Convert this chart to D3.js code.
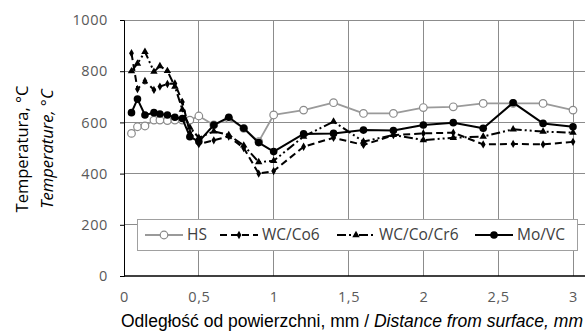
<!DOCTYPE html>
<html><head><meta charset="utf-8">
<script src="https://cdn.jsdelivr.net/npm/d3@7"></script>
<style>body{margin:0;background:#fff}svg{display:block}text{font-family:"Open Sans",sans-serif}</style>
</head><body>
<svg id="c" width="585" height="332"></svg>
<script>
const xs = [0.05,0.09,0.14,0.2,0.24,0.29,0.34,0.39,0.44,0.5,0.6,0.7,0.8,0.9,1.0,1.2,1.4,1.6,1.8,2.0,2.2,2.4,2.6,2.8,3.0];
const hs     = [557,583,586,609,609,607,609,609,609,625,590,615,577,525,629,648,677,635,635,658,661,674,674,674,648];
const wcco6  = [870,730,762,727,740,750,752,680,560,515,530,545,500,400,410,505,540,512,550,557,560,514,516,514,524];
const wccocr = [800,830,876,798,820,801,740,650,580,540,565,551,510,445,450,545,603,525,551,531,540,545,573,564,560];
const movc   = [638,691,629,638,633,629,620,615,544,525,590,620,577,521,486,555,557,570,568,590,599,577,677,596,583];
const seriesNames = ["HS","WC/Co6","WC/Co/Cr6","Mo/VC"];
const xTicks = [0,0.5,1,1.5,2,2.5,3];
const xTickLabels = ["0","0,5","1","1,5","2","2,5","3"];
const yTicks = [0,200,400,600,800,1000];

const svg = d3.select("#c");
const x = d3.scaleLinear().domain([0,3]).range([124,573]);
const y = d3.scaleLinear().domain([0,1000]).range([276,20]);
const right = 590;

// grid
const g = svg.append("g");
g.selectAll(".hg").data(yTicks.filter(d=>d>0)).join("line")
  .attr("x1",x(0)).attr("x2",right).attr("y1",d=>y(d)).attr("y2",d=>y(d))
  .attr("stroke","#8c8c8c").attr("stroke-width",1).attr("shape-rendering","crispEdges");
g.selectAll(".vg").data(xTicks.filter(d=>d>0)).join("line")
  .attr("x1",d=>x(d)).attr("x2",d=>x(d)).attr("y1",y(1000)).attr("y2",y(0))
  .attr("stroke","#8c8c8c").attr("stroke-width",1).attr("shape-rendering","crispEdges");

// axes
const ya = svg.append("g").attr("transform",`translate(${x(0)},0)`)
  .call(d3.axisLeft(y).tickValues(yTicks).tickFormat(d3.format("d")).tickSize(4).tickPadding(12));
ya.select(".domain").attr("stroke","#000");
ya.selectAll(".tick line").attr("stroke","#000");
ya.selectAll("text").attr("fill","#595959").attr("font-size","14.5px").attr("letter-spacing","0.6px").attr("x",-16);
const xa = svg.append("g").attr("transform",`translate(0,${y(0)})`)
  .call(d3.axisBottom(x).tickValues(xTicks).tickFormat((d,i)=>xTickLabels[i]).tickSize(0).tickPadding(16));
xa.select(".domain").remove();
xa.selectAll("text").attr("fill","#595959").attr("font-size","14.5px").attr("letter-spacing","0.6px");
svg.append("line").attr("x1",x(0)).attr("x2",right).attr("y1",y(0)).attr("y2",y(0))
  .attr("stroke","#000").attr("stroke-width",1.3);

// titles
const xt = svg.append("text").attr("x",121).attr("y",327).attr("font-size","17.5px").attr("fill","#000")
  .style("font-family","'Liberation Sans',Arial,sans-serif");
xt.append("tspan").text("Odległość od powierzchni, mm / ");
xt.append("tspan").attr("font-style","italic").text("Distance from surface, mm");
const yt = svg.append("g").attr("transform","translate(0,149) rotate(-90)")
  .style("font-family","'Liberation Sans',Arial,sans-serif");
yt.append("text").attr("x",0).attr("y",28).attr("text-anchor","middle").attr("font-size","16.5px").text("Temperatura, °C");
yt.append("text").attr("x",0).attr("y",53).attr("text-anchor","middle").attr("font-size","16.5px").attr("font-style","italic").text("Temperature, °C");

// series
const line = d3.line().x((d,i)=>x(xs[i])).y(d=>y(d));
const styles = [
  {data:hs, stroke:"#9a9a9a", dash:null, w:1.8, marker:"circleOpen"},
  {data:wcco6, stroke:"#000", dash:"7,4", w:2, marker:"diamond"},
  {data:wccocr, stroke:"#000", dash:"9,3,2,3,2,3", w:2, marker:"triangle"},
  {data:movc, stroke:"#000", dash:null, w:2, marker:"circle"}
];
function drawMarker(sel, type, cx, cy){
  if(type==="circleOpen") sel.append("circle").attr("cx",cx).attr("cy",cy).attr("r",3.8).attr("fill","#fff").attr("stroke","#8a8a8a").attr("stroke-width",1.2);
  else if(type==="circle") sel.append("circle").attr("cx",cx).attr("cy",cy).attr("r",3.8).attr("fill","#000");
  else if(type==="diamond") sel.append("path").attr("d",d3.symbol(d3.symbolDiamond,20)()).attr("transform",`translate(${cx},${cy})`).attr("fill","#000");
  else if(type==="triangle") sel.append("path").attr("d",d3.symbol(d3.symbolTriangle,24)()).attr("transform",`translate(${cx},${cy})`).attr("fill","#000");
}
styles.forEach(s=>{
  const gg = svg.append("g");
  gg.append("path").datum(s.data).attr("d",line).attr("fill","none").attr("stroke",s.stroke)
    .attr("stroke-width",s.w).attr("stroke-dasharray",s.dash).attr("stroke-linejoin","round");
  s.data.forEach((v,i)=>drawMarker(gg,s.marker,x(xs[i]),y(v)));
});

// legend
const lg = svg.append("g");
lg.append("rect").attr("x",137.5).attr("y",219.5).attr("width",440).attr("height",31)
  .attr("fill","#fff").attr("stroke","#a0a0a0");
const legX = [145,220,337,475];
seriesNames.forEach((n,i)=>{
  const s = styles[i], x0 = legX[i], yy = 235;
  lg.append("line").attr("x1",x0).attr("x2",x0+38).attr("y1",yy).attr("y2",yy)
    .attr("stroke",s.stroke).attr("stroke-width",s.w).attr("stroke-dasharray",s.dash);
  drawMarker(lg,s.marker,x0+19,yy);
  lg.append("text").attr("x",x0+42).attr("y",yy).attr("dy","0.35em").attr("font-size","15.5px").attr("fill","#404040").text(n);
});
</script>
</body></html>
